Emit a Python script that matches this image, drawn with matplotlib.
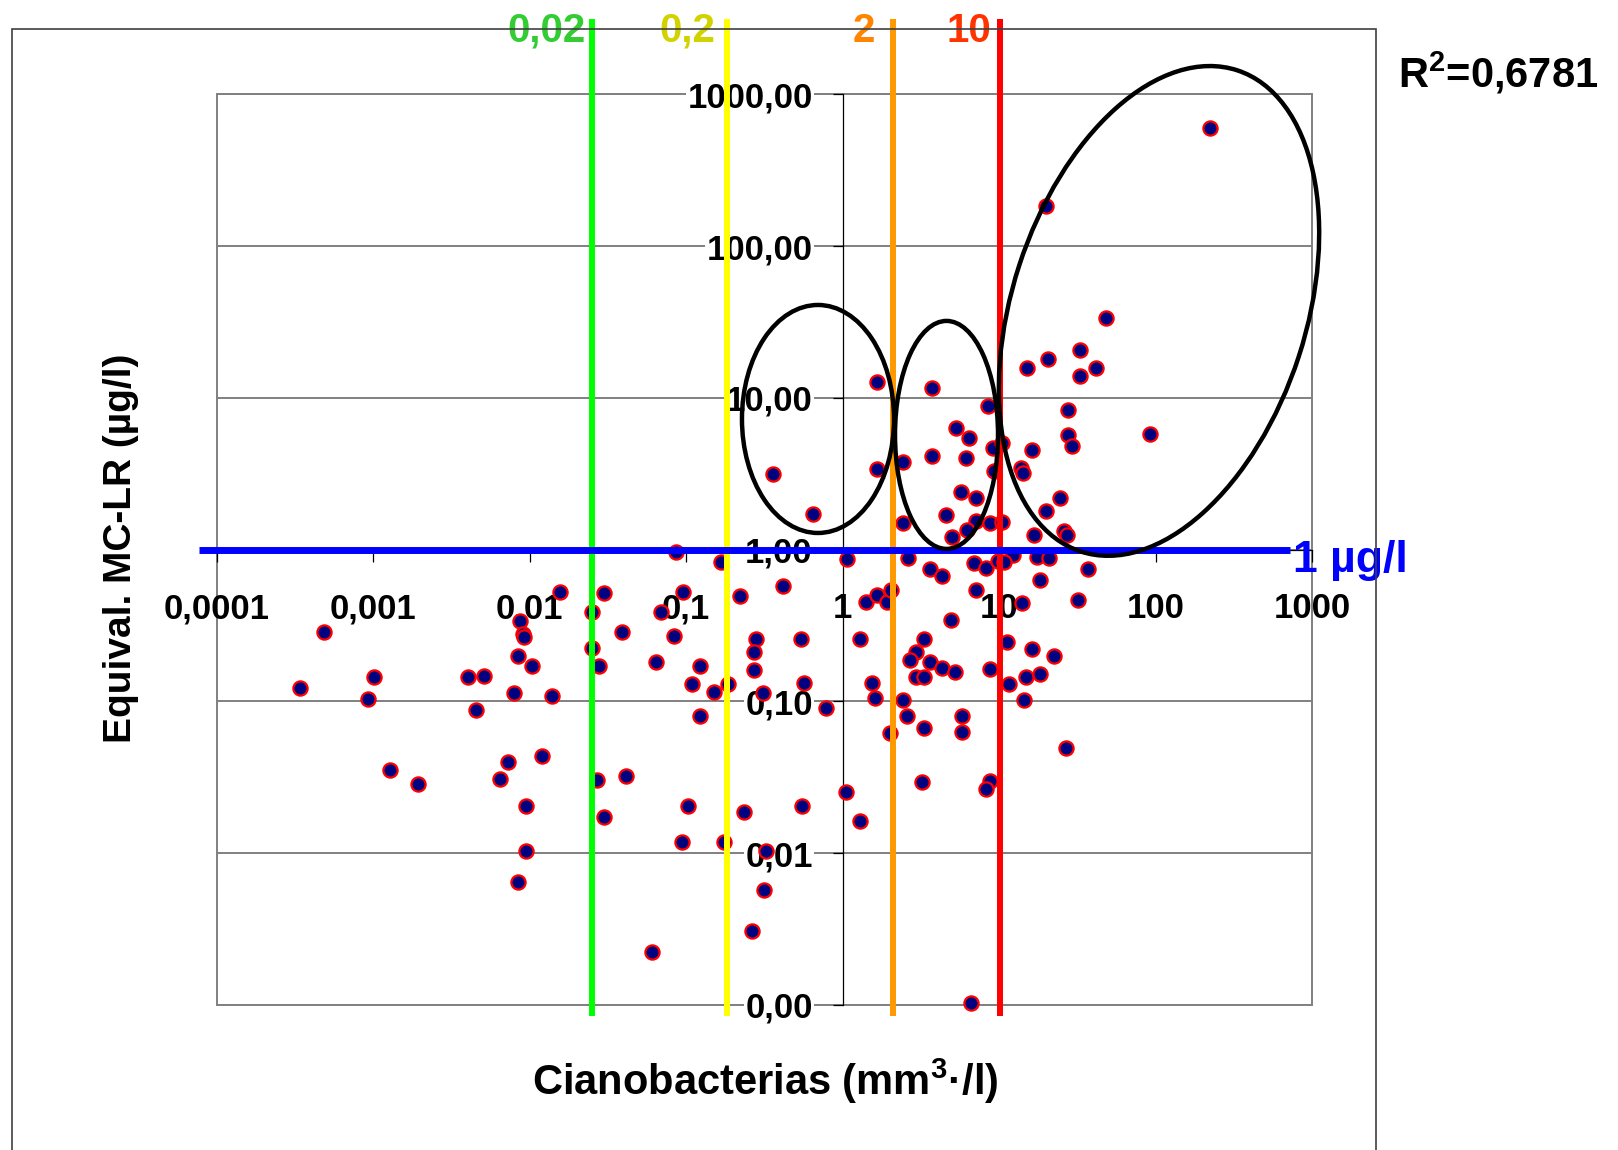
import matplotlib
matplotlib.use('Agg')
import matplotlib.pyplot as plt
from matplotlib.patches import Ellipse, Rectangle
from matplotlib.ticker import NullLocator

plt.rcParams['font.family'] = ['Liberation Sans', 'DejaVu Sans']
plt.rcParams['font.weight'] = 'bold'
plt.rcParams['mathtext.fontset'] = 'custom'
plt.rcParams['mathtext.bf'] = 'Liberation Sans:bold'
plt.rcParams['mathtext.rm'] = 'Liberation Sans:bold'
plt.rcParams['mathtext.default'] = 'bf'

# ---------------- data ----------------
cyano = [
    0.0157, 0.00869, 0.00905, 0.00922, 0.000489, 0.00841, 0.0104, 0.00102, 0.000342, 0.00405,
    0.00512, 0.0080, 0.0139, 0.000925, 0.00457, 0.0121, 0.00729, 0.00648, 0.00129, 0.00195,
    0.0095, 0.0095, 0.00845,
    0.0863, 0.167, 1.064, 0.0301, 0.0953, 0.221, 0.415, 0.0252, 0.0692, 1.413,
    1.654, 0.0392, 0.0842, 0.280, 0.541, 1.294, 0.0252, 0.273, 0.0278, 0.0646,
    0.123, 0.272, 0.110, 0.186, 0.151, 0.570, 0.309, 1.543, 1.621, 0.785,
    0.123, 0.0269, 0.0415, 1.057, 0.103, 0.236, 0.554, 0.0301, 1.30, 0.0947,
    0.176, 0.323, 0.316, 0.265, 0.0609,
    1.654, 3.75, 8.54, 5.31, 6.40, 9.20, 10.4, 0.358, 1.654, 2.43,
    3.75, 6.15, 9.33, 0.645, 5.69, 7.13, 4.59, 2.43, 7.13, 8.76,
    10.4, 6.22, 5.03, 2.62, 3.62, 4.34, 6.95, 8.26, 9.90, 12.3,
    17.6, 20.8, 36.9, 18.4, 7.16, 1.93, 2.03, 14.1, 31.8, 4.91,
    3.33, 2.95, 2.70, 3.62, 4.34, 5.23, 2.95, 3.33, 2.43, 2.57,
    3.33, 2.01, 5.83, 5.83, 8.80, 11.3, 11.6, 16.3, 22.6, 14.9,
    18.4, 14.5, 26.9, 3.24, 8.80, 8.26, 6.60, 10.7,
    48.5, 32.9, 20.7, 15.0, 41.9, 32.9, 27.6, 92.2, 27.6, 29.4,
    16.3, 13.8, 14.2, 24.5, 20.1, 16.7, 26.0, 27.1,
    223.0, 20.1,
]
mclr = [
    0.529, 0.339, 0.279, 0.267, 0.288, 0.200, 0.172, 0.144, 0.123, 0.144,
    0.148, 0.113, 0.109, 0.103, 0.088, 0.044, 0.040, 0.0307, 0.0354, 0.0286,
    0.0206, 0.0103, 0.0065,
    0.970, 0.834, 0.865, 0.516, 0.529, 0.498, 0.579, 0.391, 0.391, 0.455,
    0.503, 0.288, 0.270, 0.257, 0.257, 0.257, 0.226, 0.213, 0.172, 0.183,
    0.172, 0.162, 0.131, 0.131, 0.116, 0.132, 0.113, 0.132, 0.106, 0.091,
    0.0806, 0.0304, 0.0325, 0.0255, 0.0206, 0.0188, 0.0206, 0.0172, 0.0162, 0.0119,
    0.0119, 0.0103, 0.00573, 0.00305, 0.00225,
    12.8, 11.7, 8.85, 6.36, 5.47, 4.70, 5.02, 3.17, 3.39, 3.80,
    4.16, 4.04, 3.30, 1.73, 2.41, 2.20, 1.68, 1.49, 1.55, 1.49,
    1.53, 1.35, 1.21, 0.886, 0.743, 0.671, 0.814, 0.761, 0.843, 0.923,
    0.891, 0.878, 0.743, 0.632, 0.543, 0.455, 0.543, 0.443, 0.466, 0.344,
    0.257, 0.213, 0.188, 0.183, 0.167, 0.157, 0.144, 0.144, 0.102, 0.0806,
    0.0672, 0.0617, 0.0806, 0.0632, 0.163, 0.248, 0.130, 0.221, 0.200, 0.144,
    0.152, 0.102, 0.0494, 0.0296, 0.0301, 0.0264, 0.00103, 0.834,
    33.7, 20.8, 17.9, 15.8, 15.8, 14.0, 8.36, 5.81, 5.67, 4.84,
    4.56, 3.47, 3.19, 2.19, 1.79, 1.24, 1.33, 1.24,
    603.0, 185.0,
]

x_ticks = [1e-4, 1e-3, 1e-2, 1e-1, 1, 10, 100, 1000]
x_tick_labels = ['0,0001', '0,001', '0,01', '0,1', '1', '10', '100', '1000']
y_ticks = [1e-3, 1e-2, 1e-1, 1, 10, 100, 1000]
y_tick_labels = ['0,00', '0,01', '0,10', '1,00', '10,00', '100,00', '1000,00']

threshold_pos = [0.025, 0.184, 2.11, 10.15]
threshold_labels = ['0,02', '0,2', '2', '10']
threshold_line_colors = ['#00FF00', '#FFFF00', '#FF9900', '#FF0000']
threshold_text_colors = ['#33CC33', '#D2D200', '#FF8400', '#FF3300']
limit_value = 1.0
limit_label = '1 µg/l'
r2_text = 'R$^{2}$=0,6781'
x_label = 'Cianobacterias (mm$^{3}$·/l)'
y_label = 'Equival. MC-LR (µg/l)'

# ---------------- layout ----------------
W, H = 1618, 1150
fig = plt.figure(figsize=(W / 100, H / 100), dpi=100)
fig.patch.set_facecolor('white')
ax = fig.add_axes([216.5 / W, 1 - 1005 / H, (1312 - 216.5) / W, (1005 - 94.3) / H])
ax.set_xscale('log')
ax.set_yscale('log')
ax.set_xlim(1e-4, 1e3)
ax.set_ylim(1e-3, 1e3)
ax.set_facecolor('none')

# spines: axes cross at (1, 1)
for s in ['top', 'right']:
    ax.spines[s].set_visible(False)
ax.spines['left'].set_position(('data', 1))
ax.spines['bottom'].set_position(('data', 1))
for s in ['left', 'bottom']:
    ax.spines[s].set_color('black')
    ax.spines[s].set_linewidth(0.9)

ax.add_patch(Rectangle((0, 0), 1, 1, transform=ax.transAxes, fill=False,
                       edgecolor='#808080', lw=1.4, zorder=0.5, clip_on=False))

ax.set_xticks(x_ticks)
ax.set_xticklabels(x_tick_labels)
ax.set_yticks(y_ticks)
ax.set_yticklabels(y_tick_labels)
ax.xaxis.set_minor_locator(NullLocator())
ax.yaxis.set_minor_locator(NullLocator())
ax.tick_params(axis='x', direction='out', length=8.5, width=0.9, pad=22, labelsize=25)
ax.tick_params(axis='y', direction='out', length=7.5, width=0.9, pad=14, labelsize=25)
ax.yaxis.grid(True, color='#808080', lw=1.4)
ax.xaxis.grid(False)
for lbl in ax.get_yticklabels():
    lbl.set_bbox(dict(facecolor='white', edgecolor='none', pad=1))

# scatter
ax.scatter(cyano, mclr, s=105, c='#000080', edgecolors='#FF0000', linewidths=1.6,
           zorder=3, clip_on=False)

# vertical threshold lines and labels
vline_span = (8.5e-4, 3130)
label_gap_px = [6, 12, 18, 9]
for xv, lab, lc, tc, gap in zip(threshold_pos, threshold_labels, threshold_line_colors,
                                threshold_text_colors, label_gap_px):
    ax.plot([xv, xv], list(vline_span), color=lc, lw=4.3, clip_on=False, zorder=4,
            solid_capstyle='butt')
    ax.annotate(lab, xy=(xv, 1 - 42 / H), xycoords=('data', 'figure fraction'),
                xytext=(-gap, 0), textcoords='offset pixels', ha='right', va='baseline',
                color=tc, fontsize=29, fontweight='bold', annotation_clip=False)

# horizontal 1 ug/l line
hline_span = (7.7e-5, 720)
ax.plot(list(hline_span), [limit_value, limit_value], color='#0000FF', lw=5,
        clip_on=False, zorder=5, solid_capstyle='butt')
ax.annotate(limit_label, xy=(hline_span[1], limit_value), xycoords='data',
            xytext=(3, -22), textcoords='offset pixels', ha='left', va='baseline',
            color='#0000FF', fontsize=32, fontweight='bold', annotation_clip=False)

# ellipses (centres in data units, sizes in pixels)
ellipses = [((0.697, 7.26), 152, 228, 0), ((4.62, 5.70), 103, 228, 0),
            ((105.3, 37.4), 294, 506, -18)]
for (cx, cy), w_px, h_px, ang in ellipses:
    dx, dy = ax.transData.transform((cx, cy))
    e = Ellipse((dx / fig.dpi, dy / fig.dpi), w_px / fig.dpi, h_px / fig.dpi, angle=ang,
                transform=fig.dpi_scale_trans, fill=False, edgecolor='black', lw=3.2,
                zorder=6)
    fig.add_artist(e)

# outer chart frame
fig.add_artist(Rectangle((12.4 / W, -0.02), (1375.5 - 12.4) / W, 1 - 29 / H + 0.02,
                         transform=fig.transFigure, fill=False, edgecolor='#404040', lw=1.2))

# texts
fig.text(1398 / W, 1 - 87 / H, r2_text, fontsize=30, fontweight='bold', ha='left',
         va='baseline')
fig.text(121 / W, 1 - 548 / H, y_label, rotation=90, ha='center', va='center',
         fontsize=28, fontweight='bold')
fig.text(765 / W, 1 - 1081 / H, x_label, ha='center', va='center', fontsize=30,
         fontweight='bold')

fig.savefig('out.png', dpi=100)
